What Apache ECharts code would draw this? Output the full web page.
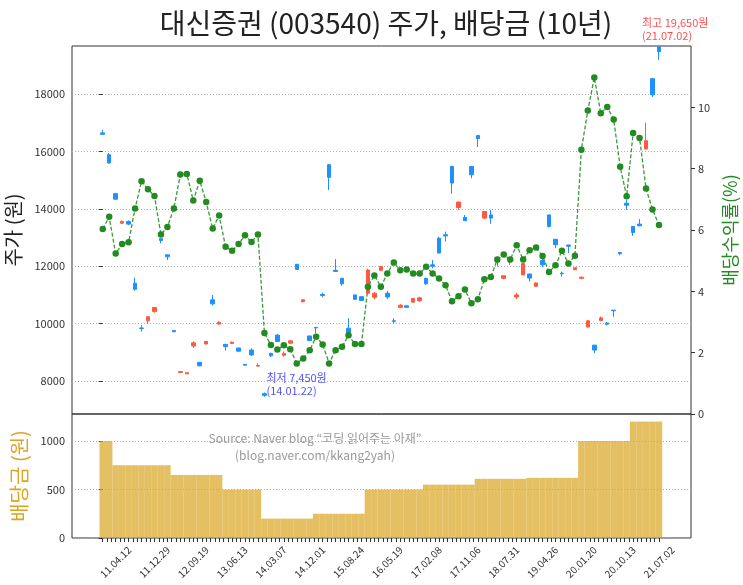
<!DOCTYPE html>
<html>
<head>
<meta charset="utf-8">
<script src="https://cdn.jsdelivr.net/npm/echarts@6/dist/echarts.min.js"></script>
<style>
  html, body { margin: 0; padding: 0; background: #fff; }
  #chart { width: 743px; height: 585px; }
</style>
</head>
<body>
<div id="chart"></div>
<script>
// 30거래일 간격 캔들 (0 ~ 86)
const openP = [16650,15890,14530,13500,13560,11410,9850,10100,10420,12960,
  12400,9760,8300,8250,9220,8650,9290,10830,9990,9280,
  9310,9150,8580,9080,8520,7560,8960,9600,8900,9320,
  12070,10770,9570,9870,11020,15540,11860,11580,9840,11000,
  10940,11060,10920,11860,11060,10100,10560,10620,10750,10800,
  11580,12050,12980,13100,15480,14050,13700,15480,16560,13680,
  13790,12300,11580,12200,10930,11700,11730,11300,12200,13790,
  12940,11760,12740,11880,11580,9880,9250,10110,10020,10470,
  12480,14200,13390,13470,16090,18540,19650];
const closeP = [16600,15600,14340,13560,13470,11200,9830,10240,10560,12900,
  12330,9720,8330,8290,9330,8530,9380,10690,10050,9200,
  9350,9040,8550,8910,8540,7500,8880,9380,8960,9400,
  11890,10830,9410,9850,10980,15100,11820,11390,9690,10850,
  10810,11870,11060,11990,10930,10080,10640,10570,10880,10900,
  11390,12000,12460,13060,14900,14240,13590,15190,16450,13910,
  13680,12150,11670,12150,11000,12100,11590,11420,12050,13390,
  12750,11740,12700,11950,11620,10100,9080,10200,9980,10450,
  12440,14130,13180,13410,16380,17980,19480];
const lowP = [16600,15580,14330,13480,13430,11150,9720,9990,10380,12800,
  12220,9700,8300,8240,9150,8510,9280,10630,9960,9060,
  9290,9030,8540,8870,8500,7450,8830,9360,8850,9300,
  11880,10740,9400,9660,10920,14660,11810,11320,9680,10840,
  10800,11020,10850,11850,10850,10010,10550,10540,10740,10760,
  11350,11930,12450,12860,14530,13970,13580,15070,16160,13650,
  13480,11990,11550,12050,10850,11690,11470,11290,11970,13350,
  12630,11640,12460,11870,11550,9870,8970,10080,9940,10240,
  12380,13970,13060,13400,16080,17900,19200];
const highP = [16760,15950,14560,13600,13600,11600,9950,10250,10560,12970,
  12400,9780,8340,8300,9380,8660,9400,11000,10080,9290,
  9380,9160,8590,9140,8620,7600,8990,9640,9030,9420,
  12080,10850,9580,9880,11080,15570,12250,11600,10190,11010,
  10950,11920,11100,12000,11140,10190,10680,10640,10890,10940,
  11600,12220,13030,13210,15510,14250,13790,15500,16580,13920,
  13970,12340,11680,12280,11080,12110,11740,11430,12280,13800,
  12950,11815,12750,11960,11640,10110,9260,10250,10060,10480,
  12490,14320,13400,13650,17010,18560,19650];

// 배당수익률 (%)
const yieldPct = [6.03,6.43,5.23,5.54,5.60,6.70,7.59,7.33,7.11,5.85,
  6.10,6.70,7.81,7.83,6.96,7.61,6.91,6.05,6.47,5.45,
  5.32,5.54,5.83,5.61,5.85,2.64,2.25,2.10,2.24,2.11,
  1.65,1.81,2.08,2.52,2.27,1.65,2.08,2.19,2.57,2.28,
  2.28,4.15,4.52,4.15,4.58,4.94,4.69,4.71,4.58,4.58,
  4.80,4.58,4.42,4.20,3.68,3.84,4.06,3.61,3.74,4.39,
  4.47,5.04,5.20,5.04,5.50,5.04,5.34,5.43,5.15,4.63,
  4.85,5.32,4.91,5.16,8.62,9.90,10.97,9.81,10.01,9.60,
  8.06,7.10,9.16,9.00,7.35,6.67,6.16];

// 배당금 (원)
const dividend = [1000,1000,
  750,750,750,750,750,750,750,750,750,
  650,650,650,650,650,650,650,650,
  500,500,500,500,500,500,
  200,200,200,200,200,200,200,200,
  250,250,250,250,250,250,250,250,
  500,500,500,500,500,500,500,500,500,
  550,550,550,550,550,550,550,550,
  610,610,610,610,610,610,610,610,
  620,620,620,620,620,620,620,620,
  1000,1000,1000,1000,1000,1000,1000,1000,
  1200,1200,1200,1200,1200];

// x축 날짜 라벨 (캔들 2번부터 6개 간격)
const tickLabels = ['11.04.12','11.12.29','12.09.19','13.06.13','14.03.07','14.12.01','15.08.24',
  '16.05.19','17.02.08','17.11.06','18.07.31','19.04.26','20.01.20','20.10.13','21.07.02'];
const labelStart = 2, labelStep = 6;
const priceTicks = [8000,10000,12000,14000,16000,18000];
const divTicks = [0,500,1000];

const lowIdx = 25, highIdx = 86;

const candles = openP.map((o, i) => [i, o, closeP[i], lowP[i], highP[i]]);
const yieldData = yieldPct.map((v, i) => [i, v]);
const divData = dividend.map((v, i) => [i, v]);
const labelPos = tickLabels.map((d, k) => labelStart + k * labelStep);
const minorTicks = [];
for (let k = 0; k <= (openP.length - 1) * 1.5; k++) minorTicks.push(k / 1.5);

const FONT = '"Noto Sans CJK KR", "Noto Sans", sans-serif';
const xMin = -4.75, xMax = 90.95;
const dotted = { color: '#b0b0b0', type: [1, 2], width: 1 };
const plain = v => String(v);

const chart = echarts.init(document.getElementById('chart'));
chart.setOption({
  animation: false,
  textStyle: { fontFamily: FONT },
  title: {
    text: '대신증권 (003540) 주가, 배당금 (10년)',
    left: 381, top: 4, textAlign: 'center',
    textStyle: { fontFamily: FONT, fontSize: 28, fontWeight: 'normal', color: '#222' }
  },
  graphic: [{
    type: 'text', x: 315, y: 430,
    style: {
      text: 'Source: Naver blog “코딩 읽어주는 아재”\n(blog.naver.com/kkang2yah)',
      fill: '#999', font: '12px ' + FONT, textAlign: 'center', lineHeight: 17
    }
  }],
  grid: [
    { left: 72, top: 46, width: 619, height: 368, outerBoundsMode: 'none', containLabel: false,
      show: true, borderColor: '#333', borderWidth: 1 },
    { left: 72, top: 414, width: 619, height: 124, outerBoundsMode: 'none', containLabel: false,
      show: true, borderColor: '#333', borderWidth: 1 }
  ],
  xAxis: [
    { type: 'value', gridIndex: 0, min: xMin, max: xMax, show: false },
    {
      type: 'value', gridIndex: 1, min: xMin, max: xMax,
      axisLine: { show: false }, splitLine: { show: false },
      axisTick: { show: true, length: 4, customValues: minorTicks, lineStyle: { color: '#333' } },
      axisLabel: {
        customValues: labelPos, rotate: 45, align: 'center', verticalAlign: 'middle', margin: 24,
        fontSize: 10, color: '#333', fontFamily: FONT,
        formatter: v => tickLabels[Math.round((v - labelStart) / labelStep)]
      }
    }
  ],
  yAxis: [
    {
      type: 'value', gridIndex: 0, min: 6850, max: 19680,
      name: '주가 (원)', nameLocation: 'middle', nameRotate: 90, nameGap: 42,
      nameTextStyle: { fontSize: 20, color: '#222', fontFamily: FONT },
      axisLine: { show: false },
      axisTick: { show: true, length: 4, customValues: priceTicks, lineStyle: { color: '#333' } },
      axisLabel: { customValues: priceTicks, fontSize: 11, color: '#333', margin: 7, formatter: plain },
      splitLine: { show: true, lineStyle: dotted }
    },
    {
      type: 'value', gridIndex: 0, position: 'right', min: 0, max: 12, interval: 2,
      name: '배당수익률(%)', nameLocation: 'middle', nameRotate: 90, nameGap: 23,
      nameTextStyle: { fontSize: 18, color: '#228B22', fontFamily: FONT },
      axisLine: { show: false },
      axisTick: { show: true, length: 4, lineStyle: { color: '#333' } },
      axisLabel: { fontSize: 11, color: '#333', margin: 7, showMaxLabel: false, formatter: plain },
      splitLine: { show: false }
    },
    {
      type: 'value', gridIndex: 1, min: 0, max: 1278,
      name: '배당금 (원)', nameLocation: 'middle', nameRotate: 90, nameGap: 40,
      nameTextStyle: { fontSize: 20, color: '#DAA520', fontFamily: FONT },
      axisLine: { show: false },
      axisTick: { show: true, length: 4, customValues: divTicks, lineStyle: { color: '#333' } },
      axisLabel: { customValues: divTicks, fontSize: 11, color: '#333', margin: 7, formatter: plain },
      splitLine: { show: true, lineStyle: dotted }
    }
  ],
  series: [
    {
      name: '주가', type: 'candlestick', xAxisIndex: 0, yAxisIndex: 0, z: 2,
      data: candles, encode: { x: 0, y: [1, 2, 3, 4] }, barWidth: 4,
      itemStyle: { color: '#FF5A40', color0: '#1E90FF', borderColor: '#FF5A40', borderColor0: '#1E90FF', borderWidth: 1 },
      markPoint: {
        symbol: 'circle', symbolSize: 0,
        data: [
          {
            coord: [highIdx, highP[highIdx]],
            label: {
              show: true, position: [0, 0], align: 'left', verticalAlign: 'bottom', offset: [-17, -5],
              formatter: '최고 19,650원\n(21.07.02)', color: 'rgba(255,30,30,0.8)', fontSize: 11, lineHeight: 13, fontFamily: FONT
            }
          },
          {
            coord: [lowIdx, lowP[lowIdx]],
            label: {
              show: true, position: [0, 0], align: 'left', verticalAlign: 'bottom', offset: [2, 1],
              formatter: '최저 7,450원\n(14.01.22)', color: 'rgba(30,30,255,0.8)', fontSize: 11, lineHeight: 13, fontFamily: FONT
            }
          }
        ]
      }
    },
    {
      name: '배당수익률', type: 'line', xAxisIndex: 0, yAxisIndex: 1, z: 4,
      data: yieldData, symbol: 'circle', symbolSize: 6.5,
      lineStyle: { color: '#3a9a3a', type: [4, 2], width: 1.3 },
      itemStyle: { color: '#228B22' }
    },
    {
      name: '배당금', type: 'bar', xAxisIndex: 1, yAxisIndex: 2,
      data: divData, barWidth: '100%',
      itemStyle: { color: 'rgba(218,165,32,0.7)' }
    }
  ]
});
</script>
</body>
</html>
